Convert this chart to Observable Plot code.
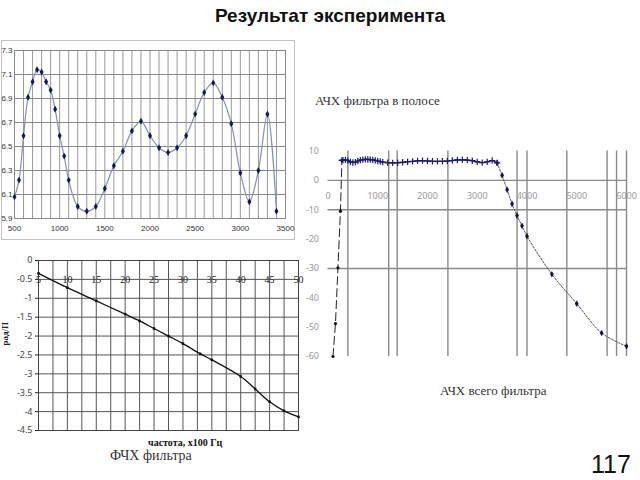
<!DOCTYPE html>
<html><head><meta charset="utf-8">
<script src="https://cdn.jsdelivr.net/npm/d3@7"></script>
<script src="https://cdn.jsdelivr.net/npm/@observablehq/plot@0.6"></script>
<style>
body{margin:0;background:#fff;}
#slide{position:relative;width:640px;height:480px;overflow:hidden;font-family:Arial,"Liberation Sans",sans-serif;background:#fff;}
.abs{position:absolute;white-space:nowrap;}
.serif{font-family:"Liberation Serif","DejaVu Serif",serif;color:#333;}
#c1frame{position:absolute;left:1px;top:40px;width:292px;height:198px;border:1px solid #c4c4c4;}
</style></head><body><div id="slide">
<div class="abs" style="left:0;top:5px;width:660px;text-align:center;font-weight:bold;font-size:19px;color:#111;">Результат эксперимента</div>
<div id="c1frame"></div>
<div id="c1" class="abs" style="left:0;top:36px;"></div>
<div id="c2" class="abs" style="left:0;top:250px;"></div>
<div id="c3" class="abs" style="left:300px;top:140px;"></div>
<div class="abs serif" style="left:315px;top:93px;font-size:13px;">АЧХ фильтра в полосе</div>
<div class="abs serif" style="left:440px;top:383px;font-size:13px;">АЧХ всего фильтра</div>
<div class="abs serif" style="left:148px;top:437px;font-size:10px;font-weight:bold;color:#111;">частота, x100 Гц</div>
<div class="abs serif" style="left:110px;top:448px;font-size:14px;">ФЧХ фильтра</div>
<div class="abs" style="left:591px;top:450px;font-size:25px;color:#111;">117</div>
</div>
<script>
// ---- Chart 1: АЧХ в полосе (in-band response) ----
const bandFreq = [500,550,600,650,700,750,800,850,900,950,1000,1050,1100,1200,1300,1400,1500,1600,1700,1800,1900,2000,2100,2200,2300,2400,2500,2600,2700,2800,2900,3000,3100,3200,3300,3400];
const bandGain = [6.08,6.22,6.59,6.91,7.04,7.14,7.12,7.04,6.97,6.81,6.59,6.42,6.22,6.00,5.96,6.00,6.15,6.34,6.46,6.63,6.71,6.59,6.49,6.45,6.49,6.59,6.77,6.95,7.03,6.91,6.69,6.28,6.04,6.30,6.77,5.96];
const band_xTicks = [500,1000,1500,2000,2500,3000,3500];
const band_xGrid = d3.range(500, 3501, 100);
const band_yTicks = [5.9,6.1,6.3,6.5,6.7,6.9,7.1,7.3];

// ---- Chart 2: ФЧХ (phase response) ----
const phaseFreq = [5,10,15,20,22.5,25,27.5,30,33,35,40,42.5,45,47.5,50];
const phaseRad  = [-0.34,-0.72,-1.07,-1.42,-1.60,-1.80,-2.00,-2.20,-2.47,-2.63,-3.07,-3.40,-3.74,-3.98,-4.14];
const phase_xTicks = [5,10,15,20,25,30,35,40,45,50];
const phase_xGrid = d3.range(5, 50.01, 2.5);
const phase_yTicks = [0,-0.5,-1,-1.5,-2,-2.5,-3,-3.5,-4,-4.5];

// ---- Chart 3: АЧХ всего фильтра (full response) ----
const riseFreq = [100,150,200,250,280];
const riseGain = [-60,-48.8,-29.8,-10.5,6.8];
const passFreq = [280,300,350,400,450].concat(bandFreq);
const passGain = [6.8,6.9,7.0,6.7,6.3].concat(bandGain);
const fallFreq = [3400,3500,3600,3700,3800,3900,4000,4500,5000,5500,6000];
const fallGain = [5.96,1.7,-3.2,-8,-12,-15.5,-19,-32,-42,-52,-56.5];
const full_xTicks = [0,1000,2000,3000,4000,5000,6000];
const full_yTicks = [10,0,-10,-20,-30,-40,-50,-60];
const full_hGrid = [0,-10,-30];
const full_vGrid = [400,1220,1390,2410,3800,4000,4800,5610,5800,6000];

const zip = (xs, ys) => xs.map((x, i) => ({x, y: ys[i]}));
const narrow = "'Liberation Sans Narrow','Liberation Sans',Arial,sans-serif";
const str = d => String(d);

// Chart 1
const band = zip(bandFreq, bandGain);
document.getElementById("c1").append(Plot.plot({
  width: 300, height: 210,
  marginLeft: 14, marginRight: 15, marginTop: 14, marginBottom: 28,
  style: {background: "transparent", fontFamily: narrow},
  x: {domain: [500, 3500], axis: null},
  y: {domain: [5.9, 7.3], axis: null},
  marks: [
    Plot.gridX(band_xGrid, {stroke: "#999", strokeOpacity: 1}),
    Plot.gridY(band_yTicks, {stroke: "#888", strokeOpacity: 1}),
    Plot.frame({stroke: "#888"}),
    Plot.line(band, {x: "x", y: "y", curve: "catmull-rom", stroke: "#8390b4", strokeWidth: 1.2}),
    Plot.dot(band, {x: "x", y: "y", symbol: "diamond", r: 2.1, fill: "#161660"}),
    Plot.axisY(band_yTicks, {label: null, tickSize: 0, tickPadding: 2, fontSize: 8, fill: "#333", tickFormat: d => d.toFixed(1)}),
    Plot.axisX(band_xTicks, {label: null, tickSize: 0, tickPadding: 7, fontSize: 8, fill: "#333", tickFormat: str})
  ]
}));

// Chart 2
const phase = zip(phaseFreq, phaseRad);
document.getElementById("c2").append(Plot.plot({
  width: 310, height: 230,
  marginLeft: 38, marginRight: 12, marginTop: 10, marginBottom: 50,
  style: {background: "transparent"},
  x: {domain: [5, 50], axis: null},
  y: {domain: [-4.5, 0], axis: null},
  marks: [
    Plot.gridX(phase_xGrid, {stroke: "#555", strokeOpacity: 1}),
    Plot.gridY(phase_yTicks, {stroke: "#555", strokeOpacity: 1}),
    Plot.frame({stroke: "#444"}),
    Plot.axisY(phase_yTicks, {label: null, tickSize: 3, tickPadding: 3, fontSize: 9, fill: "#444", stroke: "#222", tickFormat: str}),
    Plot.text(phase_xTicks, {x: d => d, text: str, frameAnchor: "top", dy: 15, fontSize: 10, fill: "#222", fontFamily: "'Liberation Serif',serif"}),
    Plot.text(["рад/П"], {frameAnchor: "left", dx: -33, rotate: -90, fontSize: 9, fontWeight: "bold", fill: "#222", fontFamily: "'Liberation Serif',serif"}),
    Plot.line(phase, {x: "x", y: "y", curve: "catmull-rom", stroke: "#111", strokeWidth: 1.3}),
    Plot.dot(phase, {x: "x", y: "y", symbol: "square", r: 1.4, fill: "#111"})
  ]
}));

// Chart 3
const rise = zip(riseFreq, riseGain), pass = zip(passFreq, passGain), fall = zip(fallFreq, fallGain);
document.getElementById("c3").append(Plot.plot({
  width: 340, height: 230,
  marginLeft: 27.5, marginRight: 14, marginTop: 10.5, marginBottom: 14,
  style: {background: "transparent"},
  x: {domain: [0, 6000], axis: null},
  y: {domain: [-60, 10], axis: null},
  marks: [
    Plot.ruleX(full_vGrid, {stroke: "#8a8a8a", strokeWidth: 1.4}),
    Plot.ruleY(full_hGrid, {stroke: "#8a8a8a", strokeWidth: 1.4}),
    Plot.axisY(full_yTicks, {label: null, tickSize: 0, tickPadding: 9, fontSize: 9, fill: "#999", tickFormat: str}),
    Plot.text(full_xTicks, {x: d => d, y: d => 0, text: str, dy: 16, fontSize: 9, fill: "#999"}),
    Plot.line(rise, {x: "x", y: "y", stroke: "#222", strokeWidth: 1, strokeDasharray: "8,4"}),
    Plot.dot(rise, {x: "x", y: "y", r: 1.6, fill: "#111"}),
    Plot.line(fall, {x: "x", y: "y", curve: "catmull-rom", stroke: "#555", strokeWidth: 1, strokeDasharray: "2,1.5"}),
    Plot.dot(fall, {x: "x", y: "y", symbol: "diamond", r: 2, fill: "#161640"}),
    Plot.line(pass, {x: "x", y: "y", stroke: "#1c1c6e", strokeWidth: 1.4}),
    Plot.dot(pass, {x: "x", y: "y", symbol: "plus", r: 2.2, stroke: "#1c1c6e", strokeWidth: 1.2})
  ]
}));
</script>
</body></html>
